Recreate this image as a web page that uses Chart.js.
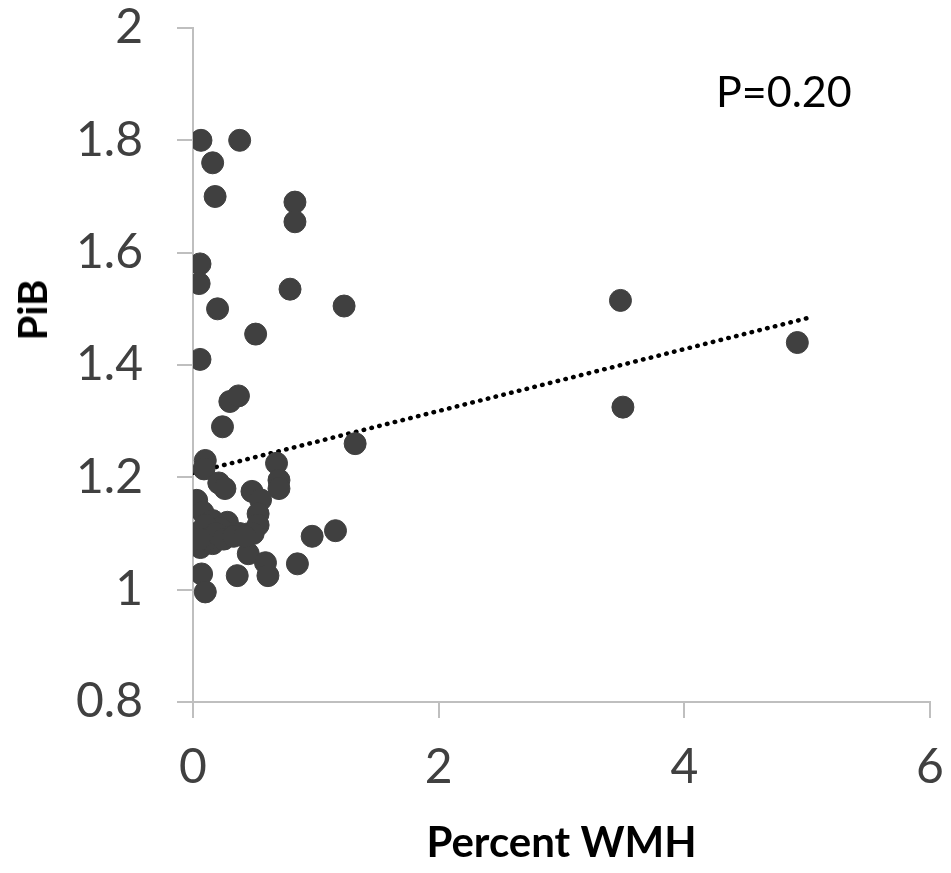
<!DOCTYPE html>
<html>
<head>
<meta charset="utf-8">
<script src="https://cdn.jsdelivr.net/npm/chart.js@4"></script>
<style>
  html, body { margin: 0; padding: 0; background: #fff; }
  #wrap { position: relative; width: 951px; height: 873px; }
  #pval { position: absolute; left: 716px; top: 65px; font: 43px Lato, "Open Sans", sans-serif; color: #000; }
  #ytitle { position: absolute; left: 32px; top: 310px; transform: translate(-50%, -50%) rotate(-90deg);
            font: bold 40px Lato, "Open Sans", sans-serif; color: #000; white-space: nowrap; }
</style>
</head>
<body>
<div id="wrap">
  <canvas id="chart" width="951" height="873"></canvas>
  <div id="pval">P=0.20</div>
  <div id="ytitle">PiB</div>
</div>
<script>
// valores
const wmh = [0.065, 0.38, 0.16, 0.18, 0.83, 0.83, 0.057, 0.05, 0.79, 0.20,
             1.23, 0.51, 3.48, 0.057, 4.92, 3.50, 0.30, 0.37, 0.24, 1.32,
             0.10, 0.09, 0.68, 0.70, 0.70, 0.21, 0.26, 0.48, 0.03, 0.55,
             0.08, 0.53, 0.53, 0.02, 1.16, 0.97, 0.46, 0.06, 0.16, 0.28,
             0.30, 0.16, 0.38, 0.14, 0.22, 0.10, 0.49, 0.45, 0.59, 0.61,
             0.85, 0.07, 0.36, 0.10, 0.12, 0.19, 0.25, 0.33, 0.05, 0.42];
const pib = [1.80, 1.80, 1.76, 1.70, 1.69, 1.655, 1.58, 1.545, 1.535, 1.50,
             1.505, 1.455, 1.515, 1.41, 1.44, 1.325, 1.335, 1.345, 1.29, 1.26,
             1.23, 1.215, 1.225, 1.195, 1.18, 1.19, 1.18, 1.175, 1.159, 1.16,
             1.138, 1.135, 1.115, 1.10, 1.105, 1.095, 1.10, 1.075, 1.123, 1.12,
             1.10, 1.082, 1.10, 1.105, 1.11, 1.115, 1.10, 1.064, 1.048, 1.025,
             1.046, 1.028, 1.025, 0.996, 1.09, 1.10, 1.09, 1.095, 1.09, 1.095];
const trendX = [0, 5.03];
const trendY = [1.208, 1.485];
const xTicks = [0, 2, 4, 6];
const yTicks = [0.8, 1, 1.2, 1.4, 1.6, 1.8, 2];

const FONT = 'Lato, "Open Sans", sans-serif';
const AXIS = '#bfbfbf';

const points = wmh.map((x, i) => ({ x: x, y: pib[i] }));
const trend = trendX.map((x, i) => ({ x: x, y: trendY[i] }));

new Chart(document.getElementById('chart'), {
    type: 'scatter',
    data: {
        datasets: [
            {
                data: points,
                backgroundColor: '#404040',
                borderColor: '#404040',
                pointRadius: 11,
                pointHoverRadius: 11
            },
            {
                type: 'line',
                data: trend,
                borderColor: '#000',
                borderWidth: 4.5,
                borderCapStyle: 'round',
                borderDash: [0.5, 7.5],
                pointRadius: 0,
                fill: false
            }
        ]
    },
    options: {
        responsive: false,
        animation: false,
        layout: { autoPadding: false, padding: { top: 28, right: 21, left: 0, bottom: 0 } },
        plugins: { legend: { display: false }, tooltip: { enabled: false } },
        scales: {
            x: {
                type: 'linear',
                min: 0, max: 6,
                afterBuildTicks: s => { s.ticks = xTicks.map(v => ({ value: v })); },
                afterFit: s => { s.height = 171; s.paddingLeft = 0; s.paddingRight = 0; },
                border: { color: AXIS, width: 2 },
                grid: { drawOnChartArea: false, drawTicks: true, tickLength: 16, color: AXIS, lineWidth: 2 },
                ticks: { font: { family: FONT, size: 48, lineHeight: 1 }, color: '#404040', padding: 26 },
                title: { display: true, text: 'Percent WMH', font: { family: FONT, size: 42, weight: 'bold' }, color: '#000', padding: { top: 16 } }
            },
            y: {
                type: 'linear',
                min: 0.8, max: 2,
                afterBuildTicks: s => { s.ticks = yTicks.map(v => ({ value: v })); },
                afterFit: s => { s.width = 193; s.paddingTop = 0; s.paddingBottom = 0; },
                border: { color: AXIS, width: 2 },
                grid: { drawOnChartArea: false, drawTicks: true, tickLength: 16, color: AXIS, lineWidth: 2 },
                ticks: { font: { family: FONT, size: 48, lineHeight: 1 }, color: '#404040', padding: 34,
                         callback: v => String(+v.toFixed(1)) }
            }
        }
    }
});
</script>
</body>
</html>
